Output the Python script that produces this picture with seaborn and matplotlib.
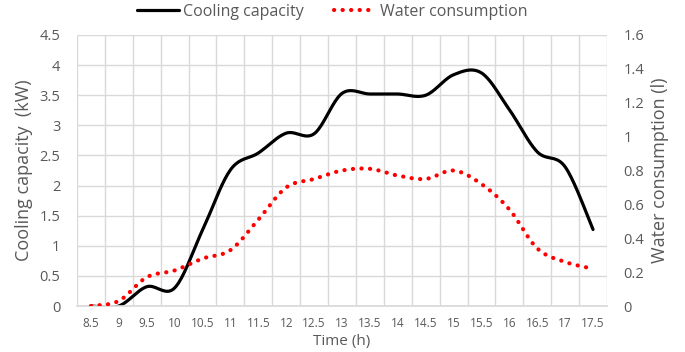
import numpy as np
import pandas as pd
import matplotlib
matplotlib.use("Agg")
import matplotlib.pyplot as plt
import seaborn as sns

time_labels = ["8.5", "9", "9.5", "10", "10.5", "11", "11.5", "12", "12.5", "13",
               "13.5", "14", "14.5", "15", "15.5", "16", "16.5", "17", "17.5"]
cooling_kw = [0.0, 0.0, 0.32, 0.30, 1.26, 2.26, 2.54, 2.87, 2.86, 3.53,
              3.52, 3.52, 3.50, 3.84, 3.87, 3.26, 2.56, 2.31, 1.27]
water_l = [0.0, 0.03, 0.17, 0.21, 0.28, 0.33, 0.51, 0.70, 0.75, 0.80,
           0.81, 0.77, 0.75, 0.80, 0.72, 0.57, 0.34, 0.26, 0.22]
left_ticks = [0, 0.5, 1, 1.5, 2, 2.5, 3, 3.5, 4, 4.5]
right_ticks = [0, 0.2, 0.4, 0.6, 0.8, 1, 1.2, 1.4, 1.6]


def smooth(y, n=20):
    """Excel-style smoothed line (Catmull-Rom) through the category points."""
    y = np.asarray(y, float)
    x = np.arange(len(y), dtype=float)
    P = np.column_stack([x, y])
    P = np.vstack([P[0], P, P[-1]])
    out = []
    t = np.linspace(0, 1, n, endpoint=False)[:, None]
    for i in range(1, len(P) - 2):
        p0, p1, p2, p3 = P[i - 1], P[i], P[i + 1], P[i + 2]
        c1 = p1 + (p2 - p0) / 6
        c2 = p2 - (p3 - p1) / 6
        seg = ((1 - t) ** 3) * p1 + 3 * ((1 - t) ** 2) * t * c1 + 3 * (1 - t) * t ** 2 * c2 + t ** 3 * p2
        out.append(seg)
    out.append(P[-2][None, :])
    out = np.vstack(out)
    return pd.DataFrame({"x": out[:, 0], "y": out[:, 1]})


sns.set_theme(style="white")
plt.rcParams["font.family"] = ["Open Sans", "DejaVu Sans"]
gray = "#595959"
grid = "#d9d9d9"

fig = plt.figure(figsize=(6.85, 3.52), dpi=100)
ax = fig.add_axes([77 / 685, 46 / 352, 530 / 685, 271 / 352])
ax2 = ax.twinx()

dc = smooth(cooling_kw)
dw = smooth(water_l)
sns.lineplot(data=dc, x="x", y="y", ax=ax, color="black", linewidth=2.3,
             sort=False, estimator=None, label="Cooling capacity", legend=False)
sns.lineplot(data=dw, x="x", y="y", ax=ax2, color="#ff0000", linewidth=3.0,
             sort=False, estimator=None, label="Water consumption", legend=False)
for l in ax2.lines:
    l.set_linestyle((0, (0.05, 2.0)))
    l.set_dash_capstyle("round")

n = len(time_labels)
ax.set_xlim(-0.5, n - 0.5)
ax.set_ylim(0, 4.5)
ax2.set_ylim(0, 1.6)
ax.set_xticks(range(n))
ax.set_xticklabels(time_labels)
ax.set_xticks(np.arange(-0.5, n, 1), minor=True)
ax.set_yticks(left_ticks)
ax.set_yticklabels([f"{v:g}" for v in left_ticks])
ax2.set_yticks(right_ticks)
ax2.set_yticklabels([f"{v:g}" for v in right_ticks])

ax.grid(True, which="minor", axis="x", color=grid, linewidth=1.0)
ax.grid(True, which="major", axis="y", color=grid, linewidth=1.0)
ax.grid(False, which="major", axis="x")
ax.set_axisbelow(True)
ax2.grid(False)
for a in (ax, ax2):
    for s in a.spines.values():
        s.set_visible(False)
ax.spines["bottom"].set_visible(True)
ax.spines["bottom"].set_color(grid)

ax.tick_params(axis="x", which="both", length=0, labelsize=8.5, labelcolor=gray, pad=8)
ax.tick_params(axis="y", length=0, labelsize=10.5, labelcolor=gray, pad=12)
ax2.tick_params(axis="y", length=0, labelsize=10.5, labelcolor=gray, pad=12)

ax.set_xlabel("Time (h)", fontsize=11, color=gray, labelpad=3)
ax.set_ylabel("Cooling capacity  (kW)", fontsize=13, color=gray, labelpad=5)
ax2.set_ylabel("Water consumption (l)", fontsize=13, color=gray, labelpad=5)

h1 = ax.lines[0]
h2 = ax2.lines[0]
leg = fig.legend([h1, h2], ["Cooling capacity", "Water consumption"], loc="upper center",
                 bbox_to_anchor=(0.485, 1.03), ncol=2, frameon=False, fontsize=11.5,
                 handlelength=2.6, handletextpad=0.25, columnspacing=1.9)
for t in leg.get_texts():
    t.set_color(gray)

fig.savefig("out.png", dpi=100)
